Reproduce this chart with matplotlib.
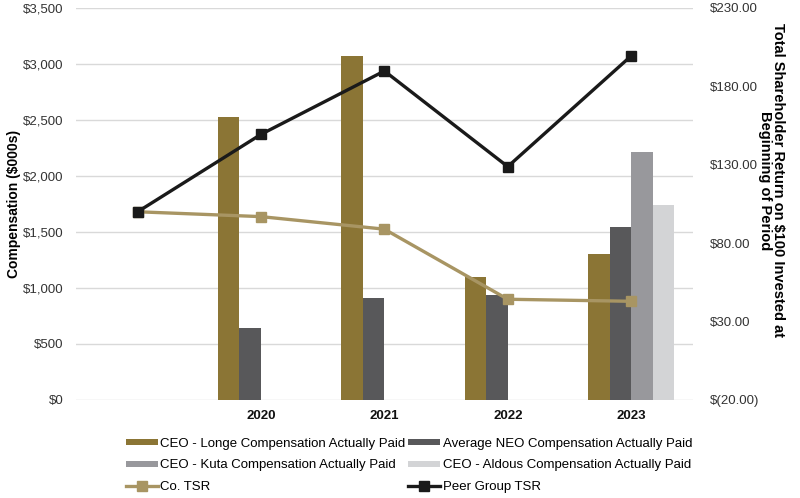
import matplotlib

matplotlib.use("Agg")
import matplotlib.pyplot as plt
import numpy as np
from matplotlib.ticker import FuncFormatter

plt.rcParams["font.family"] = ["Liberation Sans", "DejaVu Sans"]

# ─── Data ─────────────────────────────────────────────────────────────
categories = ["", "2020", "2021", "2022", "2023"]
longe_cap = [np.nan, 2525, 3070, 1100, 1305]
neo_cap = [np.nan, 645, 910, 937, 1545]
kuta_cap = [np.nan, np.nan, np.nan, np.nan, 2210]
aldous_cap = [np.nan, np.nan, np.nan, np.nan, 1740]
co_tsr = [100.0, 96.9, 88.9, 44.2, 42.9]
peer_tsr = [100.0, 149.4, 189.8, 128.8, 199.4]

bar_series = [
    ("CEO - Longe Compensation Actually Paid", longe_cap, "#8B7535"),
    ("Average NEO Compensation Actually Paid", neo_cap, "#58585A"),
    ("CEO - Kuta Compensation Actually Paid", kuta_cap, "#98989C"),
    ("CEO - Aldous Compensation Actually Paid", aldous_cap, "#D3D4D6"),
]

fig = plt.figure(figsize=(8.0, 4.98), dpi=100)
ax = fig.add_axes([0.095, 0.197, 0.771, 0.787])
ax2 = ax.twinx()

x = np.arange(len(categories))
width = 0.175
handles = {}
for i, (name, vals, color) in enumerate(bar_series):
    offs = (i - 1.5) * width
    h = ax.bar(x + offs, vals, width=width, color=color, label=name, zorder=2)
    handles[name] = h

ln_co, = ax2.plot(x, co_tsr, color="#A89563", lw=2.4, marker="s", ms=7.5,
                  label="Co. TSR", zorder=3)
ln_peer, = ax2.plot(x, peer_tsr, color="#1A1A1A", lw=2.4, marker="s", ms=7.5,
                    label="Peer Group TSR", zorder=3)

ax.set_xlim(-0.5, len(categories) - 0.5)
ax.set_ylim(0, 3500)
ax.set_yticks(np.arange(0, 3501, 500))
ax.yaxis.set_major_formatter(FuncFormatter(lambda v, p: f"${v:,.0f}"))
ax.grid(axis="y", color="#D9D9D9", lw=1, zorder=0)
ax.set_axisbelow(True)

ax2.set_ylim(-20, 230)
ax2.set_yticks(np.arange(-20, 231, 50))
ax2.yaxis.set_major_formatter(
    FuncFormatter(lambda v, p: f"$({abs(v):.2f})" if v < 0 else f"${v:.2f}"))

ax.set_xticks(x)
ax.set_xticklabels(categories, fontweight="bold", fontsize=9.5)

for a in (ax, ax2):
    for s in a.spines.values():
        s.set_visible(False)
    a.tick_params(length=0, labelsize=9.5, labelcolor="#333333")
ax.tick_params(axis="y", pad=9)
ax.tick_params(axis="x", pad=7, labelcolor="#111111")
ax2.tick_params(axis="y", pad=12)

ax.set_ylabel("Compensation ($000s)", fontweight="bold", fontsize=10, labelpad=1)
ax2.set_ylabel("Total Shareholder Return on $100 Invested at\nBeginning of Period",
               fontweight="bold", fontsize=10.5, rotation=-90, linespacing=0.9)
ax2.yaxis.set_label_coords(1.149, 0.56)

order = [
    handles[bar_series[0][0]], handles[bar_series[2][0]], ln_co,
    handles[bar_series[1][0]], handles[bar_series[3][0]], ln_peer,
]
fig.legend(order, [h.get_label() for h in order], ncol=2, frameon=False,
           loc="upper left", bbox_to_anchor=(0.151, 0.132), fontsize=9.5,
           handlelength=2.4, handleheight=0.35, handletextpad=0.2,
           columnspacing=0.2, labelspacing=0.75, borderaxespad=0)

fig.savefig("out.png", dpi=100)
